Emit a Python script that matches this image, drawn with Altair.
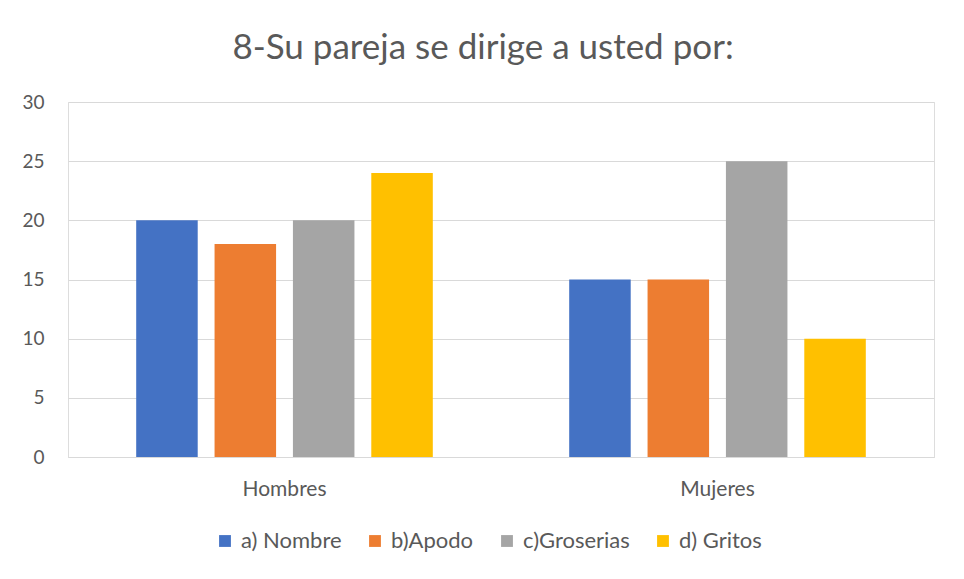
import altair as alt
import pandas as pd

groups = ["Hombres", "Mujeres"]
series = ["a) Nombre", "b)Apodo", "c)Groserias", "d) Gritos"]
colors = ["#4472C4", "#ED7D31", "#A5A5A5", "#FFC000"]
values = {
    "Hombres": [20, 18, 20, 24],
    "Mujeres": [15, 15, 25, 10],
}

rows = []
for g in groups:
    for s, v in zip(series, values[g]):
        rows.append({"grupo": g, "serie": s, "valor": v})
df = pd.DataFrame(rows)

font = "Lato"
chart = alt.Chart(df).mark_bar().encode(
    x=alt.X("grupo:N", sort=groups, title=None,
            scale=alt.Scale(paddingInner=0.315, paddingOuter=0.1575),
            axis=alt.Axis(labelAngle=0, domain=True, domainColor="#D9D9D9", ticks=False,
                          labelFontSize=21, labelColor="#595959", labelFont=font, labelPadding=21)),
    xOffset=alt.XOffset("serie:N", sort=series,
                        scale=alt.Scale(paddingInner=0.215, paddingOuter=0)),
    y=alt.Y("valor:Q", title=None,
            scale=alt.Scale(domain=[0, 30]),
            axis=alt.Axis(values=[0, 5, 10, 15, 20, 25, 30], domain=False, ticks=False,
                          gridColor="#D9D9D9", labelFontSize=19, labelColor="#595959",
                          labelFont=font, labelPadding=24)),
    color=alt.Color("serie:N", sort=series,
                    scale=alt.Scale(domain=series, range=colors),
                    legend=alt.Legend(title=None, orient="none", direction="horizontal",
                                      legendX=146, legendY=428,
                                      symbolType="square", symbolSize=140, symbolStrokeWidth=0,
                                      labelFontSize=22, labelColor="#595959", labelFont=font,
                                      labelOffset=5, columnPadding=22)),
).properties(
    width=866,
    height=355,
    autosize=alt.AutoSizeParams(type="none"),
    padding={"left": 60, "top": 94, "right": 22, "bottom": 106},
    title=alt.Title("8-Su pareja se dirige a usted por:", fontSize=35, font=font,
                    color="#595959", fontWeight="normal", anchor="middle", dx=-18, offset=27),
).configure_view(stroke=None).configure(background="white")

chart.save("out.html", embed_options={"renderer": "svg", "actions": False})
